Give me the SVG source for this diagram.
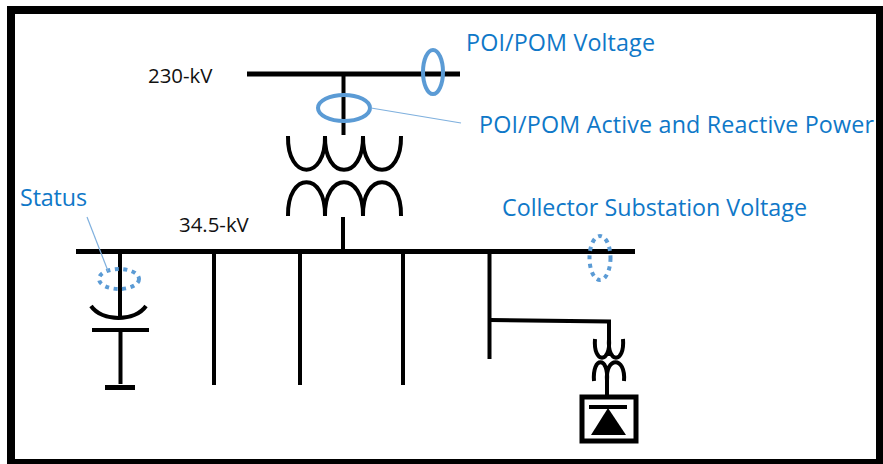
<svg xmlns="http://www.w3.org/2000/svg" width="883" height="464" viewBox="0 0 883 464">
<style>
.k{fill:none;stroke:#000;stroke-linecap:butt}
.b5{stroke-width:5}.b4{stroke-width:4}
.blue{fill:none;stroke:#5b9bd5;stroke-width:4}
.dot{fill:none;stroke:#5b9bd5;stroke-width:4;stroke-dasharray:4 4.500}
.lead{fill:none;stroke:#7fb0de;stroke-width:1.200}
.lbl{font-family:"Open Sans","Noto Sans",sans-serif;font-size:23.300px;fill:#0f78c8}
.kv{font-family:"Open Sans","Noto Sans",sans-serif;font-size:20.400px;fill:#111}
</style>
<rect id="frame" x="11" y="10" width="869" height="453" fill="#fff" stroke="#000" stroke-width="8"/>
<g id="connectors">
<path class="k b5" d="M247 74H460"/>
<path class="k b4" d="M343.500 74V135"/>
<path class="k b4" d="M343 217V251"/>
<path class="k b5" d="M76 251.500H635"/>
<path class="k b4" d="M120 251V318"/>
<path class="k b4" d="M120.500 330V384"/>
<path class="k b4" d="M214 251V385"/>
<path class="k b4" d="M300 251V385"/>
<path class="k b4" d="M403 251V385"/>
<path class="k b4" d="M489.500 251V359"/>
<path class="k b4" d="M490 320L609 321.500V356"/>
<path class="k b4" d="M607 374V396"/>
</g>
<g id="transformer-main">
<path class="k b4" d="M288 136C287 181 326 181 325 136C324 181 364 181 363 136C362 181 402 181 401 136"/>
<path class="k b4" d="M288 216C287 171 326 171 325 216C324 171 364 171 363 216C362 171 402 171 401 216"/>
</g>
<g id="transformer-small">
<path class="k b4" d="M595 339C593 364 611 364 609 339C607 364 625 364 623 339"/>
<path class="k b4" d="M594 381C592 356 609 356 607 381C605 356 626 356 624 381"/>
</g>
<g id="inverter">
<rect x="582" y="397" width="54" height="44" fill="#fff" stroke="#000" stroke-width="5"/>
<path class="k b4" d="M589 407H627"/>
<path d="M591 435L608 408L626 435Z" fill="#000"/>
</g>
<g id="capacitor">
<path class="k b4" d="M91 306C102 322 135 322 146 306"/>
<path class="k b4" d="M92 330H149"/>
<path class="k b5" d="M105 387.500H135"/>
</g>
<g id="poi-voltage">
<ellipse class="blue" cx="433" cy="72" rx="10" ry="22"/>
<text class="lbl" x="466" y="51" textLength="189">POI/POM Voltage</text>
</g>
<g id="poi-power">
<ellipse class="blue" cx="344" cy="108" rx="26" ry="13"/>
<path class="lead" d="M371 108L461 123"/>
<text class="lbl" x="479" y="133" textLength="395">POI/POM Active and Reactive Power</text>
</g>
<g id="collector-voltage">
<ellipse class="dot" cx="600" cy="258" rx="10.500" ry="22"/>
<text class="lbl" x="502" y="216" textLength="305">Collector Substation Voltage</text>
</g>
<g id="status">
<ellipse class="dot" cx="119" cy="279" rx="20" ry="10"/>
<path class="lead" d="M87 217L108 271"/>
<text class="lbl" x="20" y="206" textLength="67">Status</text>
</g>
<text id="kv230" class="kv" x="148" y="83">230-kV</text>
<text id="kv345" class="kv" x="179" y="232">34.5-kV</text>
</svg>
